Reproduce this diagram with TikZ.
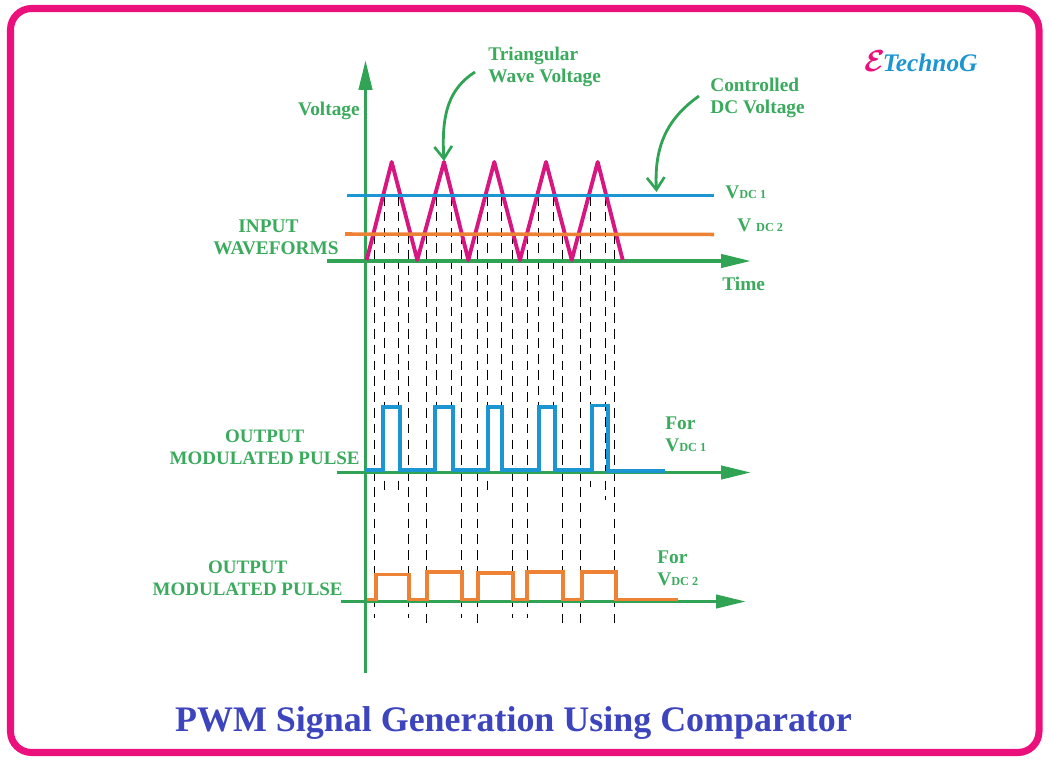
\documentclass[tikz,border=0pt]{standalone}
\usepackage{fontspec}
\setmainfont{Liberation Serif}
\usetikzlibrary{arrows.meta}

\definecolor{framepink}{RGB}{236,16,124}
\definecolor{trianglepink}{RGB}{216,22,128}
\definecolor{axisgreen}{RGB}{48,163,84}
\definecolor{textgreen}{RGB}{58,170,92}
\definecolor{dcblue}{RGB}{28,150,210}
\definecolor{dcorange}{RGB}{238,130,52}
\definecolor{titleblue}{RGB}{60,68,190}

% small subscript part of the DC labels
\newcommand{\subdc}[1]{{\fontsize{7}{9}\selectfont #1}}

\begin{document}
\begin{tikzpicture}[
    x=0.02cm, y=-0.02cm,
    greenlabel/.style={font=\fontsize{11}{12.5}\selectfont\bfseries, text=textgreen, inner sep=0pt},
    pulselabel/.style={greenlabel, font=\fontsize{10.8}{12.5}\selectfont\bfseries},
    axisline/.style={axisgreen, line width=2pt},
    axishead/.style={-{Triangle[length=17pt,width=7.5pt]}},
    pointer/.style={axisgreen, line width=1.6pt, -{Straight Barb[length=7pt,width=10pt,line width=1.5pt]}},
    dashline/.style={black, line width=0.6pt, dash pattern=on 5.5pt off 3.5pt},
    dcline/.style={line width=2pt},
    pulseline/.style={line width=2.2pt, line join=miter}
]
\useasboundingbox (0,0) rectangle (1050,766);

% Frame
\draw[framepink, line width=4pt, rounded corners=12pt] (10.5,8.5) rectangle (1039,752.5);

% Comparison instants, first the blue level then the orange level
\foreach \xpos/\yend in {384.3/490,398.3/490,436.7/480,451.7/480,487.7/490,501.7/480,538.3/480,553.7/480,590.7/487,605.7/500} {
    \draw[dashline] (\xpos,196) -- (\xpos,\yend);
}
\foreach \xpos/\yend in {374.3/618,408.7/618,426.3/628,461.7/618,477.3/628,512.3/618,527.3/618,562.7/628,580.3/628,614.7/628} {
    \draw[dashline] (\xpos,234) -- (\xpos,\yend);
}

% Axes
\coordinate (voltagetop) at (365.5,60);
\coordinate (voltagebottom) at (365.5,673);
\draw[axisline, axishead] (voltagebottom) -- (voltagetop);
\coordinate (timestart) at (327,261);
\coordinate (timeend) at (751,261);
\draw[axisline, axishead] (timestart) -- (timeend);
\coordinate (pulseonestart) at (337,472.5);
\coordinate (pulseoneend) at (751,472.5);
\draw[axisline, axishead] (pulseonestart) -- (pulseoneend);
\coordinate (pulsetwostart) at (341,601.5);
\coordinate (pulsetwoend) at (746,601.5);
\draw[axisline, axishead] (pulsetwostart) -- (pulsetwoend);

% Triangular wave
\draw[trianglepink, line width=2.2pt, line join=round]
    (366.7,260) -- (391.7,162) -- (417.3,260) -- (444,162) -- (468.3,260) -- (494.3,162)
    -- (520,260) -- (546,162) -- (571.7,260) -- (597.7,162) -- (622.7,260);

% DC levels
\draw[dcblue, dcline] (347,195.3) -- (714,195.3);
\draw[dcorange, dcline] (345,234) -- (714,234.5);

% Output for the blue level
\draw[dcblue, pulseline] (365,470) -- (383.3,470) -- (383.3,407) -- (400,407) -- (400,470)
    -- (435.3,470) -- (435.3,407) -- (452.7,407) -- (452.7,470)
    -- (488.3,470) -- (488.3,407) -- (502.3,407) -- (502.3,470)
    -- (539.3,470) -- (539.3,407) -- (555,407) -- (555,470)
    -- (591.7,470) -- (591.7,405.5) -- (607.7,405.5) -- (607.7,471) -- (665,471);

% Output for the orange level
\draw[dcorange, pulseline] (366.7,599.5) -- (375.7,599.5) -- (375.7,574.5) -- (409,574.5) -- (409,599.5)
    -- (427,599.5) -- (427,572) -- (462,572) -- (462,599.5)
    -- (478,599.5) -- (478,573) -- (513,573) -- (513,599.5)
    -- (527,599.5) -- (527,571.7) -- (562.7,571.7) -- (562.7,599.5)
    -- (581.7,599.5) -- (581.7,571.7) -- (616,571.7) -- (616,599.5) -- (677.7,599.5);

% Labels on the left
\node[greenlabel, anchor=east] (voltagelabel) at (360,110.5) {Voltage};
\node[greenlabel, align=left, anchor=west] (inputlabel) at (213,237.5) {\hspace*{14.2pt}INPUT\\WAVEFORMS};
\node[pulselabel, align=center, anchor=east] (outputone) at (360,447.5) {OUTPUT\\MODULATED PULSE};
\node[pulselabel, align=center, anchor=east] (outputtwo) at (343,578.5) {OUTPUT\\MODULATED PULSE};

% Labels on the right
\node[greenlabel, anchor=west] (timelabel) at (722,283.5) {Time};
\node[greenlabel, anchor=west] (vdcone) at (725,192) {V\subdc{DC 1}};
\node[greenlabel, anchor=west] (vdctwo) at (737,225) {V \subdc{DC 2}};
\node[greenlabel, align=left, anchor=west] (forone) at (665,434.5) {For\\V\subdc{DC 1}};
\node[greenlabel, align=left, anchor=west] (fortwo) at (657,568.5) {For\\V\subdc{DC 2}};

% Pointers
\node[greenlabel, align=left, anchor=west] (trianglelabel) at (488,66.5) {Triangular\\Wave Voltage};
\node[greenlabel, align=left, anchor=west] (controllabel) at (710,97.5) {Controlled\\DC Voltage};
\coordinate (triangletail) at (475,72);
\coordinate (triangletip) at (444,161);
\coordinate (controltail) at (699,96);
\coordinate (controltip) at (656.5,192);
\draw[pointer] (triangletail) .. controls (450,88) and (441,112) .. (triangletip);
\draw[pointer] (controltail) .. controls (668,118) and (654,145) .. (controltip);

% Logo
\node[inner sep=0pt, anchor=west, font=\fontsize{14.4}{15}\selectfont\bfseries\itshape, text=dcblue] (logo) at (864,61.5)
    {\textcolor{framepink}{\usefont{OMS}{cmsy}{b}{n}\fontsize{16}{16}\selectfont E}TechnoG};

% Title
\node[inner sep=0pt, font=\fontsize{20.45}{24}\selectfont\bfseries, text=titleblue] (title) at (513.5,723)
    {PWM Signal Generation Using Comparator};

\end{tikzpicture}
\end{document}
